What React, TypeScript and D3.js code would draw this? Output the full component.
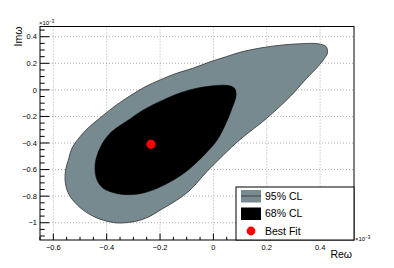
import * as d3 from 'd3';
import React from 'react';

// contour points, Re / Im in units of 1e-3
const outer95: [number, number][] = [
  [0.4275, 0.277], [0.4226, 0.325], [0.3926, 0.347], [0.3251, 0.347], [0.2501, 0.336],
  [0.1751, 0.315], [0.1001, 0.283], [0.0502, 0.251], [-0.0124, 0.211], [-0.075, 0.164],
  [-0.1436, 0.121], [-0.2, 0.075], [-0.2562, 0.023], [-0.3124, -0.045], [-0.3687, -0.121],
  [-0.4249, -0.211], [-0.4698, -0.287], [-0.4998, -0.352], [-0.5298, -0.438], [-0.5437, -0.528],
  [-0.5542, -0.604], [-0.556, -0.679], [-0.5486, -0.755], [-0.5298, -0.823], [-0.4874, -0.906],
  [-0.4436, -0.958], [-0.4125, -0.981], [-0.3626, -1.0015], [-0.3124, -0.9962], [-0.2749, -0.9811],
  [-0.2374, -0.9509], [-0.1999, -0.9057], [-0.1376, -0.8302], [-0.0877, -0.7547], [-0.0251, -0.6166],
  [0.0375, -0.4906], [0.1001, -0.3736], [0.2, -0.2136], [0.2876, -0.0506], [0.3502, 0.0883],
  [0.3877, 0.166], [0.4151, 0.234],
];

const inner68: [number, number][] = [
  [0.0851, -0.0377], [0.0776, 0.0151], [0.0476, 0.034], [-0.0011, 0.0302], [-0.0611, 0.0128],
  [-0.1249, -0.0226], [-0.1875, -0.0755], [-0.2625, -0.1509], [-0.3124, -0.2189], [-0.3874, -0.3268],
  [-0.4249, -0.4377], [-0.4436, -0.566], [-0.4361, -0.6792], [-0.4136, -0.7396], [-0.3799, -0.7698],
  [-0.3375, -0.7872], [-0.2749, -0.7811], [-0.2126, -0.7419], [-0.15, -0.6792], [-0.0877, -0.5909],
  [-0.0311, -0.483], [0.0139, -0.3774], [0.0476, -0.249], [0.0701, -0.1358],
];

const bestFit: [number, number] = [-0.234, -0.41];

const xTicks = [-0.6, -0.4, -0.2, 0, 0.2, 0.4];
const yTicks = [-1, -0.8, -0.6, -0.4, -0.2, 0, 0.2, 0.4];
const legendItems = ['95% CL', '68% CL', 'Best Fit'];

const W = 394;
const H = 268;
const frame = { left: 40, right: 354, top: 26.5, bottom: 240 };
const font = 'Liberation Sans, Arial, sans-serif';
const grey = '#768a8f';

const fmt = (v: number) => (v === 0 ? '0' : d3.format('.1f')(v).replace('-', '\u2212'));
const fmtY = (v: number) => (v === -1 ? '\u22121' : fmt(v));

const App = () => {
  const x = d3.scaleLinear().domain([-0.65, 0.527]).range([frame.left, frame.right]);
  const y = d3.scaleLinear().domain([-1.13, 0.477]).range([frame.bottom, frame.top]);
  const line = d3
    .line<[number, number]>()
    .x(d => x(d[0]))
    .y(d => y(d[1]))
    .curve(d3.curveCatmullRomClosed.alpha(0.5));

  const xMinor = d3.range(-0.65, 0.53, 0.05).map(v => Math.round(v * 100) / 100);
  const yMinor = d3.range(-1.1, 0.48, 0.05).map(v => Math.round(v * 100) / 100);
  const fw = frame.right - frame.left;
  const fh = frame.bottom - frame.top;
  const xTickLen = 0.03 * fh;
  const yTickLen = 0.03 * fw;

  const lg = { x: 236, y: 187, w: 118, h: 53 };
  const rowY = (i: number) => lg.y + 9 + i * 17.5;

  return (
    <div style={{ position: 'absolute', left: 0, top: 0 }}>
      <svg width={W} height={H} style={{ display: 'block', background: '#fff' }}>
        {/* grid */}
        <g stroke="#999" strokeWidth={0.8} strokeDasharray="1,2">
          {xTicks.map(t => (
            <line key={'gx' + t} x1={x(t)} x2={x(t)} y1={frame.top} y2={frame.bottom} />
          ))}
          {yTicks.map(t => (
            <line key={'gy' + t} x1={frame.left} x2={frame.right} y1={y(t)} y2={y(t)} />
          ))}
        </g>

        {/* contours */}
        <path d={line(outer95) || ''} fill={grey} stroke="#333" strokeWidth={0.8} />
        <path d={line(inner68) || ''} fill="#000" stroke="#000" strokeWidth={0.6} />
        <circle cx={x(bestFit[0])} cy={y(bestFit[1])} r={4.6} fill="#ff0000" />

        {/* frame */}
        <rect
          x={frame.left}
          y={frame.top}
          width={fw}
          height={fh}
          fill="none"
          stroke="#000"
          strokeWidth={1}
        />

        {/* ticks */}
        <g stroke="#000" strokeWidth={1}>
          {xMinor.map(t => {
            const major = xTicks.some(m => Math.abs(m - t) < 1e-6);
            return (
              <line
                key={'tx' + t}
                x1={x(t)}
                x2={x(t)}
                y1={frame.bottom}
                y2={frame.bottom - (major ? xTickLen : xTickLen / 2)}
              />
            );
          })}
          {yMinor.map(t => {
            const major = yTicks.some(m => Math.abs(m - t) < 1e-6);
            return (
              <line
                key={'ty' + t}
                x1={frame.left}
                x2={frame.left + (major ? yTickLen : yTickLen / 2)}
                y1={y(t)}
                y2={y(t)}
              />
            );
          })}
        </g>

        {/* tick labels */}
        <g fontFamily={font} fontSize={7.5} fill="#000">
          {xTicks.map(t => (
            <text key={'lx' + t} x={x(t)} y={frame.bottom + 10} textAnchor="middle">
              {fmt(t)}
            </text>
          ))}
          {yTicks.map(t => (
            <text key={'ly' + t} x={frame.left - 3} y={y(t) + 2.7} textAnchor="end">
              {fmtY(t)}
            </text>
          ))}
        </g>

        {/* exponent labels */}
        <g fontFamily={font} fontSize={6} fill="#000">
          <text x={frame.left - 1} y={frame.top - 1.5}>
            ×10<tspan dy={-2.5} fontSize={4.5}>−3</tspan>
          </text>
          <text x={frame.right + 1} y={frame.bottom + 1}>
            ×10<tspan dy={-2.5} fontSize={4.5}>−3</tspan>
          </text>
        </g>

        {/* axis titles */}
        <text x={frame.right - 2} y={258} textAnchor="end" fontFamily={font} fontSize={10.5}>
          Reω
        </text>
        <text
          transform={`translate(22,${frame.top}) rotate(-90)`}
          textAnchor="end"
          fontFamily={font}
          fontSize={10.5}
        >
          Imω
        </text>

        {/* legend */}
        <rect x={lg.x} y={lg.y} width={lg.w} height={lg.h} fill="#fff" stroke="#000" strokeWidth={1} />
        <rect x={241} y={rowY(0) - 6} width={20} height={12.5} fill={grey} />
        <line x1={241} x2={261} y1={rowY(0)} y2={rowY(0)} stroke="#333" strokeWidth={0.8} />
        <rect x={241} y={rowY(1) - 6} width={20} height={12.5} fill="#000" />
        <circle cx={251} cy={rowY(2)} r={4.4} fill="#ff0000" />
        <g fontFamily={font} fontSize={10.5} fill="#000">
          {legendItems.map((s, i) => (
            <text key={s} x={265} y={rowY(i) + 3.8}>
              {s}
            </text>
          ))}
        </g>
      </svg>
    </div>
  );
};

export default App;
